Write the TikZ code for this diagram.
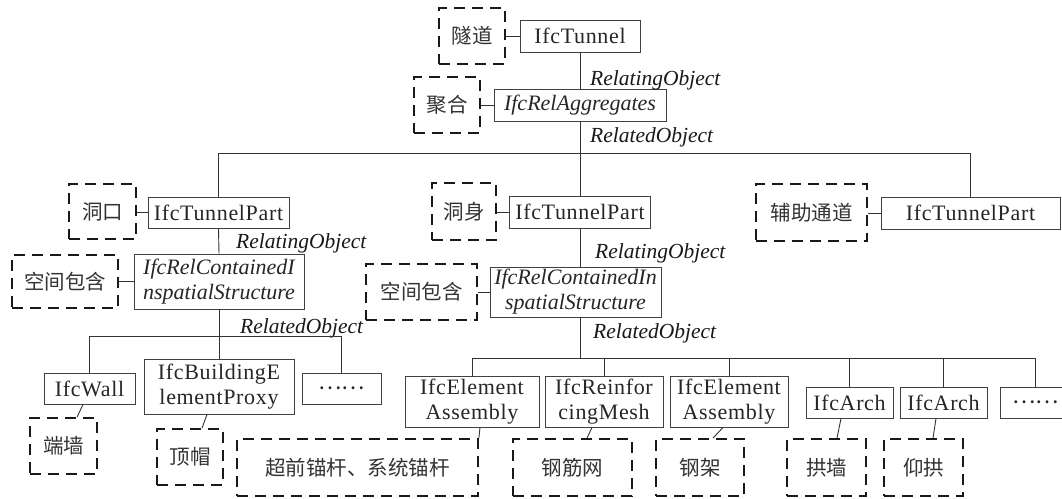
\documentclass[tikz,border=0pt]{standalone}
\usepackage{fontspec}
\setmainfont{Liberation Serif}[LetterSpace=3]
\newfontfamily\itf{Liberation Serif}
\newfontfamily\cjk{Noto Sans CJK SC}
\usetikzlibrary{calc}
\begin{document}
\begin{tikzpicture}[x=1pt,y=-1pt,
  sbox/.style={draw=black!75, line width=0.9pt, inner sep=0pt, font=\fontsize{22}{25}\selectfont, text=black!85, align=center},
  ibox/.style={sbox, font=\fontsize{22}{25}\selectfont\itf\itshape},
  dbox/.style={draw=black!90, line width=1.8pt, dash pattern=on 11pt off 7pt, inner sep=0pt, font=\fontsize{20.5}{24}\selectfont\cjk, text=black!80},
  lab/.style={anchor=base west, inner sep=0pt, font=\fontsize{21.5}{25}\selectfont\itf\itshape, text=black!90},
  conn/.style={draw=black!80, line width=0.9pt}]
\useasboundingbox[fill=white] (0,0) rectangle (1062,498);

% top level
\node[dbox, minimum width=66pt, minimum height=56pt] (dsd) at (472,36) {隧道};
\node[sbox, minimum width=120pt, minimum height=32pt] (tunnel) at (580,36) {IfcTunnel};
\node[dbox, minimum width=66pt, minimum height=56pt] (djh) at (447,105) {聚合};
\node[ibox, minimum width=172pt, minimum height=32pt] (agg) at (580,105) {IfcRelAggregates};

% tunnel parts
\node[dbox, minimum width=67pt, minimum height=55pt] (ddk) at (102.5,211.5) {洞口};
\node[sbox, minimum width=141pt, minimum height=31pt] (tpL) at (218.5,212.5) {IfcTunnelPart};
\node[dbox, minimum width=64pt, minimum height=57pt] (dds) at (464,211.5) {洞身};
\node[sbox, minimum width=141pt, minimum height=32pt] (tpM) at (580,212) {IfcTunnelPart};
\node[dbox, minimum width=111pt, minimum height=57pt] (dfz) at (811.5,212.5) {辅助通道};
\node[sbox, minimum width=179pt, minimum height=32pt] (tpR) at (970.5,213) {IfcTunnelPart};

% spatial containment
\node[dbox, minimum width=106pt, minimum height=53pt] (dkL) at (65,281.5) {空间包含};
\node[ibox, minimum width=170pt, minimum height=55pt] (relL) at (219,281.5) {IfcRelContainedI\\nspatialStructure};
\node[dbox, minimum width=111pt, minimum height=56pt] (dkM) at (421.5,292) {空间包含};
\node[ibox, minimum width=171pt, minimum height=50pt] (relM) at (575.5,292) {IfcRelContainedIn\\spatialStructure};

% elements
\node[sbox, minimum width=91pt, minimum height=31pt] (wall) at (89.5,388.5) {IfcWall};
\node[sbox, minimum width=150pt, minimum height=55pt] (proxy) at (219,386.5) {IfcBuildingE\\lementProxy};
\node[sbox, minimum width=79pt, minimum height=31pt] (dotsL) at (341.5,388.5) {\cjk ……};
\node[sbox, minimum width=134pt, minimum height=51pt] (ea1) at (472,401.5) {IfcElement\\Assembly};
\node[sbox, minimum width=118pt, minimum height=51pt] (mesh) at (604,401.5) {IfcReinfor\\cingMesh};
\node[sbox, minimum width=118pt, minimum height=51pt] (ea2) at (729,401.5) {IfcElement\\Assembly};
\node[sbox, minimum width=87pt, minimum height=31pt] (arch1) at (849.5,402.5) {IfcArch};
\node[sbox, minimum width=87pt, minimum height=31pt] (arch2) at (943.5,402.5) {IfcArch};
\node[sbox, minimum width=71pt, minimum height=31pt] (dotsR) at (1035.5,402.5) {\cjk ……};

% dashed annotations at bottom
\node[dbox, minimum width=67pt, minimum height=56pt] (dw) at (63.5,446) {端墙};
\node[dbox, minimum width=66pt, minimum height=56pt] (dm) at (190,457) {顶帽};
\node[dbox, minimum width=241pt, minimum height=57pt] (dmg) at (357.5,467.5) {超前锚杆、系统锚杆};
\node[dbox, minimum width=119pt, minimum height=57pt] (dgjw) at (572.5,467.5) {钢筋网};
\node[dbox, minimum width=88pt, minimum height=57pt] (dgj) at (700,467.5) {钢架};
\node[dbox, minimum width=79pt, minimum height=57pt] (dgq) at (826.5,467.5) {拱墙};
\node[dbox, minimum width=79pt, minimum height=57pt] (dyg) at (923.5,467.5) {仰拱};

% labels
\node[lab] (l1) at (590,85) {RelatingObject};
\node[lab] (l2) at (590,142) {RelatedObject};
\node[lab] (l3) at (236,248) {RelatingObject};
\node[lab] (l4) at (240,333) {RelatedObject};
\node[lab] (l5) at (595,258) {RelatingObject};
\node[lab] (l6) at (593,338) {RelatedObject};

% side connectors
\draw[conn] (dsd.east |- tunnel.west) -- (tunnel.west);
\draw[conn] (djh.east |- agg.west) -- (agg.west);
\draw[conn] (ddk.east |- tpL.west) -- (tpL.west);
\draw[conn] (dds.east |- tpM.west) -- (tpM.west);
\draw[conn] (dfz.east |- tpR.west) -- (tpR.west);
\draw[conn] (dkL.east |- relL.west) -- (relL.west);
\draw[conn] (dkM.east |- relM.west) -- (relM.west);

% tree connectors
\draw[conn] (tunnel.south) -- (agg.north);
\draw[conn] (agg.south) -- (tpM.north);
\draw[conn] (tpL.north) -- ++(0,-43) -| (tpR.north);
\draw[conn] (tpL.south) -- (relL.north);
\draw[conn] (tpM.south) -- (tpM.south |- relM.north);
\draw[conn] (relL.south) -- (proxy.north);
\draw[conn] (wall.north) -- ++(0,-36) -| (dotsL.north);
\coordinate (bus3) at ($(ea1.north)+(0,-17)$);
\draw[conn] (relM.south -| tpM.south) -- (bus3 -| tpM.south);
\draw[conn] (ea1.north) -- (bus3) -| (dotsR.north);
\draw[conn] (mesh.north) -- (mesh.north |- bus3);
\draw[conn] (ea2.north) -- (ea2.north |- bus3);
\draw[conn] (arch1.north) -- (arch1.north |- bus3);
\draw[conn] (arch2.north) -- (arch2.north |- bus3);

% bottom annotation connectors
\draw[conn] ($(wall.south)+(-6.5,0)$) -- ($(dw.north)+(13.5,0)$);
\draw[conn] ($(proxy.south)+(-12,0)$) -- ($(dm.north)+(12,0)$);
\draw[conn] ($(ea1.south)+(8,0)$) -- (dmg.north east);
\draw[conn] ($(mesh.south)+(-12,0)$) -- ($(dgjw.north)+(14.5,0)$);
\draw[conn] ($(ea2.south)+(-6,0)$) -- ($(dgj.north)+(13,0)$);
\draw[conn] ($(arch1.south)+(-8.5,0)$) -- ($(dgq.north)+(10.5,0)$);
\draw[conn] ($(arch2.south)+(-7.5,0)$) -- ($(dyg.north)+(9.5,0)$);
\end{tikzpicture}
\end{document}
